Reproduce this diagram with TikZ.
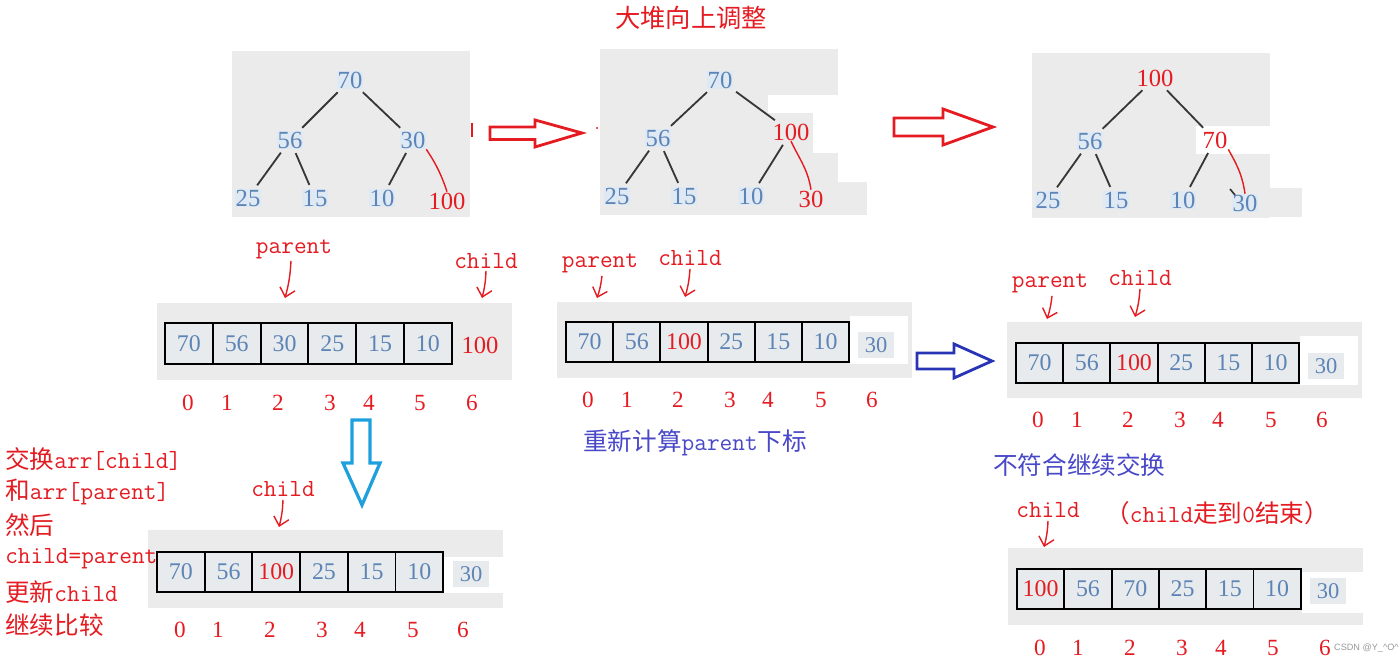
\documentclass[tikz,border=0pt]{standalone}
\usepackage{fontspec}
\setmainfont{Liberation Serif}
\newfontfamily\cjk{Noto Sans CJK SC}
\newfontfamily\wmfont{Liberation Sans}
\usetikzlibrary{arrows.meta}
\definecolor{myred}{RGB}{228,28,34}
\definecolor{numblue}{RGB}{92,132,182}
\definecolor{halo}{RGB}{222,233,244}
\definecolor{panelgray}{RGB}{235,235,235}
\definecolor{cellgray}{RGB}{232,235,237}
\definecolor{txtblue}{RGB}{72,72,200}
\definecolor{arrblue}{RGB}{40,52,182}
\definecolor{cyanarr}{RGB}{30,160,222}
\definecolor{edgegray}{RGB}{55,55,55}
\newcommand\zhs[1]{{\cjk #1}}
\begin{document}
\begin{tikzpicture}[x=0.025cm,y=-0.025cm,
  panel/.style={fill=panelgray,draw=none},
  blank/.style={fill=white,draw=none},
  bnum/.style={text=numblue,fill=halo,inner sep=0.5pt,font=\fontsize{17.5}{17.5}\selectfont},
  rnum/.style={text=myred,inner sep=0.5pt,font=\fontsize{17.5}{17.5}\selectfont},
  xnum/.style={text=numblue,fill=cellgray,minimum width=0.92cm,minimum height=0.67cm,inner sep=0pt,font=\fontsize{16}{16}\selectfont},
  idx/.style={text=myred,inner sep=0pt,font=\fontsize{16.5}{16.5}\selectfont},
  lbl/.style={text=myred,inner sep=0pt,font=\ttfamily\fontsize{17.5}{17.5}\selectfont},
  note/.style={inner sep=0pt,anchor=west,font=\ttfamily\fontsize{17.5}{17.5}\selectfont},
  edge/.style={draw=edgegray,line width=1.3pt,shorten <=3pt,shorten >=3pt},
  redline/.style={draw=myred,line width=1pt},
  ptr/.style={draw=myred,line width=1pt,-{Straight Barb[length=6pt,width=11pt,line width=1pt]}},
  cell/.style={draw=black,line width=1.3pt,fill=cellgray,inner sep=0pt,font=\fontsize{17}{17}\selectfont},
  blockarrow/.style={line width=2pt,line join=miter,fill=white}
]
\useasboundingbox[fill=white] (0,0) rectangle (1400,662);

% title
\node[text=myred,font=\cjk\fontsize{18}{18}\selectfont] (title) at (691,18) {大堆向上调整};

% ---------- tree 1 ----------
\fill[panel] (232,51) rectangle (470,217);
\node[bnum] (t1a) at (350,80) {70};
\node[bnum] (t1b) at (290,140) {56};
\node[bnum] (t1c) at (413,140) {30};
\node[bnum] (t1d) at (248,198) {25};
\node[bnum] (t1e) at (315,198) {15};
\node[bnum] (t1f) at (382,198) {10};
\node[rnum] (t1g) at (447,201) {100};
\draw[edge] (t1a) -- (t1b);
\draw[edge] (t1a) -- (t1c);
\draw[edge] (t1b) -- (t1d);
\draw[edge] (t1b) -- (t1e);
\draw[edge] (t1c) -- (t1f);
\draw[redline] (t1c.south east) .. controls (432,158) and (440,170) .. (t1g.north);
\draw[myred,line width=2pt] (472,123) -- (472,137);

% arrow 1
\draw[blockarrow,draw=myred] (490,127) -- (535,127) -- (535,120) -- (582,133) -- (535,147) -- (535,139.5) -- (490,139.5) -- cycle;
\fill[myred] (597,128) circle (1.2);

% ---------- tree 2 ----------
\fill[panel] (600,49) rectangle (838,215);
\fill[blank] (768,95) rectangle (838,113);
\fill[blank] (813,113) rectangle (838,153);
\fill[panel] (792,182) rectangle (867,215);
\node[bnum] (t2a) at (720,80) {70};
\node[bnum] (t2b) at (658,138) {56};
\node[rnum] (t2c) at (791,132) {100};
\node[bnum] (t2d) at (617,196) {25};
\node[bnum] (t2e) at (684,196) {15};
\node[bnum] (t2f) at (751,196) {10};
\node[rnum] (t2g) at (811,199) {30};
\draw[edge] (t2a) -- (t2b);
\draw[edge] (t2a) -- (t2c);
\draw[edge] (t2b) -- (t2d);
\draw[edge] (t2b) -- (t2e);
\draw[edge] (t2c) -- (t2f);
\draw[redline] (t2c.south) .. controls (800,160) and (808,170) .. (t2g.north);

% arrow 2
\draw[blockarrow,draw=myred] (894,118) -- (943,118) -- (943,109) -- (993,127) -- (943,145) -- (943,136) -- (894,136) -- cycle;

% ---------- tree 3 ----------
\fill[panel] (1032,53) rectangle (1270,218);
\fill[blank] (1196,126) rectangle (1270,154);
\fill[panel] (1227,188) rectangle (1302,217);
\node[rnum] (t3a) at (1155,78) {100};
\node[bnum] (t3b) at (1090,141) {56};
\node[rnum,fill=white] (t3c) at (1215,140) {70};
\node[bnum] (t3d) at (1048,200) {25};
\node[bnum] (t3e) at (1116,200) {15};
\node[bnum] (t3f) at (1183,200) {10};
\node[bnum] (t3g) at (1245,203) {30};
\draw[edge] (t3a) -- (t3b);
\draw[edge] (t3a) -- (t3c);
\draw[edge] (t3b) -- (t3d);
\draw[edge] (t3b) -- (t3e);
\draw[edge] (t3c) -- (t3f);
\draw[redline] (t3c.south east) .. controls (1234,160) and (1242,172) .. (t3g.north);
\draw[edgegray,line width=1.2pt] (1230,189) -- (1235,195);

% ---------- array 1 ----------
\fill[panel] (157,303) rectangle (512,380);
\foreach \v/\c [count=\i from 0] in {70/numblue,56/numblue,30/numblue,25/numblue,15/numblue,10/numblue}
  \node[cell,text=\c,minimum width=1.195cm,minimum height=1.025cm] (aa\i) at ({165+(\i+0.5)*47.8},343.5) {\v};
\node[rnum] (aax) at (480,345) {100};
\foreach \x [count=\i from 0] in {188,227,278,330,369,420,472}
  \node[idx] (ia\i) at (\x,403) {\i};
\node[lbl] (pa) at (294,249) {parent};
\coordinate (pae) at (285,298);
\draw[ptr] (pa.south) ++(-3,2) to[bend left=6] (pae);
\node[lbl] (ca) at (486,261) {child};
\coordinate (cae) at (482,298);
\draw[ptr] (ca.south) ++(0,2) to[bend left=6] (cae);

% ---------- array 2 ----------
\fill[panel] (557,302) rectangle (912,378);
\fill[blank] (850,316) rectangle (908,364);
\foreach \v/\c [count=\i from 0] in {70/numblue,56/numblue,100/myred,25/numblue,15/numblue,10/numblue}
  \node[cell,text=\c,minimum width=1.18cm,minimum height=1.0cm] (ab\i) at ({566+(\i+0.5)*47.2},342) {\v};
\node[xnum] (abx) at (876,345) {30};
\foreach \x [count=\i from 0] in {588,627,678,730,768,821,872}
  \node[idx] (ib\i) at (\x,400) {\i};
\node[lbl] (pb) at (600,263) {parent};
\coordinate (pbe) at (597,298);
\draw[ptr] (pb.south) ++(2,3) to[bend left=6] (pbe);
\node[lbl] (cb) at (690,258) {child};
\coordinate (cbe) at (685,297);
\draw[ptr] (cb.south) ++(0,3) to[bend left=6] (cbe);
\node[text=txtblue,inner sep=0pt,anchor=west,font=\ttfamily\fontsize{17.5}{17.5}\selectfont] (nb) at (583,443) {\zhs{重新计算}parent\zhs{下标}};

% blue arrow
\draw[blockarrow,draw=arrblue] (917,353) -- (954,353) -- (954,344) -- (992,361) -- (954,378) -- (954,369) -- (917,369) -- cycle;

% ---------- array 3 ----------
\fill[panel] (1007,322) rectangle (1362,398);
\fill[blank] (1300,336) rectangle (1358,385);
\foreach \v/\c [count=\i from 0] in {70/numblue,56/numblue,100/myred,25/numblue,15/numblue,10/numblue}
  \node[cell,text=\c,minimum width=1.18cm,minimum height=1.0cm] (ac\i) at ({1016+(\i+0.5)*47.2},363) {\v};
\node[xnum] (acx) at (1326,366) {30};
\foreach \x [count=\i from 0] in {1038,1077,1128,1180,1218,1271,1322}
  \node[idx] (ic\i) at (\x,420) {\i};
\node[lbl] (pc) at (1050,283) {parent};
\coordinate (pce) at (1047,319);
\draw[ptr] (pc.south) ++(2,3) to[bend left=6] (pce);
\node[lbl] (cc) at (1140,278) {child};
\coordinate (cce) at (1135,317);
\draw[ptr] (cc.south) ++(0,3) to[bend left=6] (cce);

% cyan down arrow
\draw[blockarrow,draw=cyanarr,line width=2.3pt] (352,420) -- (370,420) -- (370,463) -- (380,463) -- (362,505) -- (343,463) -- (352,463) -- cycle;

% ---------- array 4 ----------
\fill[panel] (148,530) rectangle (503,608);
\fill[blank] (443,557) rectangle (503,593);
\foreach \v/\c [count=\i from 0] in {70/numblue,56/numblue,100/myred,25/numblue,15/numblue,10/numblue}
  \node[cell,text=\c,minimum width=1.1925cm,minimum height=1.0cm] (ad\i) at ({157+(\i+0.5)*47.7},572) {\v};
\node[xnum] (adx) at (471,574) {30};
\foreach \x [count=\i from 0] in {180,218,270,322,360,413,463}
  \node[idx] (id\i) at (\x,630) {\i};
\node[lbl] (cd) at (283,489) {child};
\coordinate (cde) at (279,527);
\draw[ptr] (cd.south) ++(0,3) to[bend left=6] (cde);

% left notes
\node[note,text=myred] (L1) at (5,459) {\zhs{交换}arr[child]};
\node[note,text=myred] (L2) at (5,492) {\zhs{和}arr[parent]};
\node[note,text=myred] (L3) at (5,525) {\zhs{然后}};
\node[note,text=myred] (L4) at (5,559) {child=parent};
\node[note,text=myred] (L5) at (5,592) {\zhs{更新}child};
\node[note,text=myred] (L6) at (5,625) {\zhs{继续比较}};

% ---------- array 5 ----------
\node[note,text=txtblue,font=\cjk\fontsize{17.5}{17.5}\selectfont] (nr) at (993,465) {不符合继续交换};
\fill[panel] (1008,548) rectangle (1363,625);
\fill[blank] (1302,572) rectangle (1363,613);
\foreach \v/\c [count=\i from 0] in {100/myred,56/numblue,70/numblue,25/numblue,15/numblue,10/numblue}
  \node[cell,text=\c,minimum width=1.1825cm,minimum height=1.0cm] (ae\i) at ({1017+(\i+0.5)*47.3},589) {\v};
\node[xnum] (aex) at (1328,591) {30};
\foreach \x [count=\i from 0] in {1040,1078,1130,1182,1221,1273,1325}
  \node[idx] (ie\i) at (\x,648) {\i};
\node[lbl] (ce) at (1048,510) {child};
\coordinate (cee) at (1044,547);
\draw[ptr] (ce.south) ++(0,3) to[bend left=6] (cee);
\node[note,text=myred] (ne) at (1105,513) {\zhs{（}child\zhs{走到}0\zhs{结束）}};

% watermark
\node[text=black!40,inner sep=0pt,anchor=east,font=\wmfont\fontsize{6.5}{6.5}\selectfont] (wm) at (1399,648) {CSDN @Y\_\textasciicircum O\textasciicircum};
\end{tikzpicture}
\end{document}
